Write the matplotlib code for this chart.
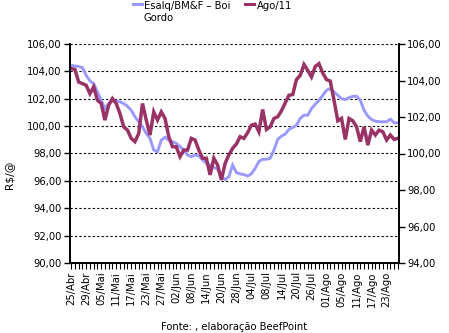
import matplotlib
matplotlib.use("Agg")
import matplotlib.pyplot as plt
from matplotlib.lines import Line2D
from matplotlib.ticker import FuncFormatter, MultipleLocator

# ---- data ----
date_labels = ["25/Abr", "29/Abr", "05/Mai", "11/Mai", "17/Mai", "23/Mai", "27/Mai",
               "02/Jun", "08/Jun", "14/Jun", "20/Jun", "28/Jun", "04/Jul", "08/Jul",
               "14/Jul", "20/Jul", "26/Jul", "01/Ago", "05/Ago", "11/Ago", "17/Ago", "23/Ago"]

esalq = [104.44, 104.39, 104.36, 104.27, 103.71, 103.30, 103.10, 102.50, 101.89, 101.28,
         101.65, 101.84, 101.82, 101.77, 101.65, 101.45, 101.16, 100.68, 100.32, 99.95,
         99.47, 99.10, 98.25, 98.13, 98.98, 99.18, 98.98, 98.86, 98.74, 98.50,
         98.25, 97.89, 97.77, 97.89, 97.82, 97.53, 97.28, 97.16, 96.99, 96.85,
         96.30, 96.10, 96.31, 97.16, 96.61, 96.51, 96.46, 96.36, 96.51, 96.92,
         97.41, 97.58, 97.58, 97.65, 98.25, 99.03, 99.27, 99.42, 99.76, 99.90,
         100.07, 100.56, 100.80, 100.80, 101.28, 101.60, 101.89, 102.25, 102.62, 102.74,
         102.50, 102.25, 102.01, 101.94, 102.08, 102.18, 102.18, 101.89, 101.16, 100.73,
         100.48, 100.36, 100.32, 100.32, 100.32, 100.51, 100.24, 100.24]

ago11 = [104.65, 104.61, 103.92, 103.83, 103.74, 103.28, 103.65, 102.92, 102.74, 101.83,
         102.65, 103.01, 102.74, 102.19, 101.46, 101.28, 100.83, 100.65, 101.10, 102.74,
         101.83, 101.01, 102.28, 101.83, 102.28, 101.92, 100.92, 100.37, 100.37, 99.83,
         100.19, 100.19, 100.83, 100.74, 100.19, 99.74, 99.74, 98.83, 99.74, 99.37,
         98.55, 99.46, 99.92, 100.28, 100.52, 100.92, 100.83, 101.14, 101.55, 101.61,
         101.19, 102.41, 101.32, 101.46, 101.92, 102.01, 102.34, 102.77, 103.19, 103.23,
         104.05, 104.28, 104.88, 104.55, 104.19, 104.77, 104.92, 104.41, 104.05, 103.97,
         102.92, 101.79, 101.92, 100.77, 101.92, 101.79, 101.46, 100.65, 101.46, 100.46,
         101.28, 101.01, 101.28, 101.19, 100.74, 101.01, 100.77, 100.83]

series_names = ["Esalq/BM&F \u2013 Boi\nGordo", "Ago/11"]
blue = "#9999FF"
red = "#993366"

W, H = 449, 333
fig = plt.figure(figsize=(W / 100, H / 100), dpi=100)
fs = 7.2

def px(x, y):
    return x / W, 1 - y / H

l, r, t, b = 70, 399, 44, 263
ax = fig.add_axes([l / W, 1 - b / H, (r - l) / W, (b - t) / H])
ax2 = ax.twinx()

x = list(range(len(esalq)))
ax.plot(x, esalq, color=blue, lw=2.1, solid_joinstyle="miter")
ax2.plot(x, ago11, color=red, lw=2.5, solid_joinstyle="miter")

ax.set_xlim(-0.3, len(x) - 0.7)
ax.set_ylim(90, 106)
ax2.set_ylim(94, 106)

fmt = FuncFormatter(lambda v, p: f"{v:.2f}".replace(".", ","))
ax.yaxis.set_major_locator(MultipleLocator(2))
ax.yaxis.set_major_formatter(fmt)
ax2.yaxis.set_major_locator(MultipleLocator(2))
ax2.yaxis.set_major_formatter(fmt)

ax.set_xticks(range(0, 4 * len(date_labels), 4))
ax.set_xticklabels(date_labels, rotation=90, fontsize=fs)
ax.set_xticks(x, minor=True)

ax.tick_params(axis="y", labelsize=fs, length=4, width=1, direction="out", pad=2)
ax2.tick_params(axis="y", labelsize=fs, length=4, width=1, direction="out", pad=2)
ax.tick_params(axis="x", which="both", length=4, width=0.8, direction="out", pad=2)

ax.grid(axis="y", color="black", linestyle=(0, (2, 2)), linewidth=0.8)
ax.set_axisbelow(True)
for a in (ax, ax2):
    a.spines["top"].set_visible(False)
    for s in ("left", "right", "bottom"):
        a.spines[s].set_linewidth(1.2)

fig.text(*px(9, 175), "R$/@", rotation=90, ha="center", va="center", fontsize=fs + 0.5)

# legend
fig.add_artist(Line2D([133 / W, 142 / W], [1 - 4 / H, 1 - 4 / H], color=blue, lw=2.2))
fig.text(*px(144, 1), series_names[0], ha="left", va="top", fontsize=fs, linespacing=1.25)
fig.add_artist(Line2D([245 / W, 254 / W], [1 - 4 / H, 1 - 4 / H], color=red, lw=2.2))
fig.text(*px(257, 1), series_names[1], ha="left", va="top", fontsize=fs)

fig.text(*px(234, 327), "Fonte: , elaboração BeefPoint", ha="center", va="center", fontsize=fs)

fig.savefig("out.png", dpi=100)
